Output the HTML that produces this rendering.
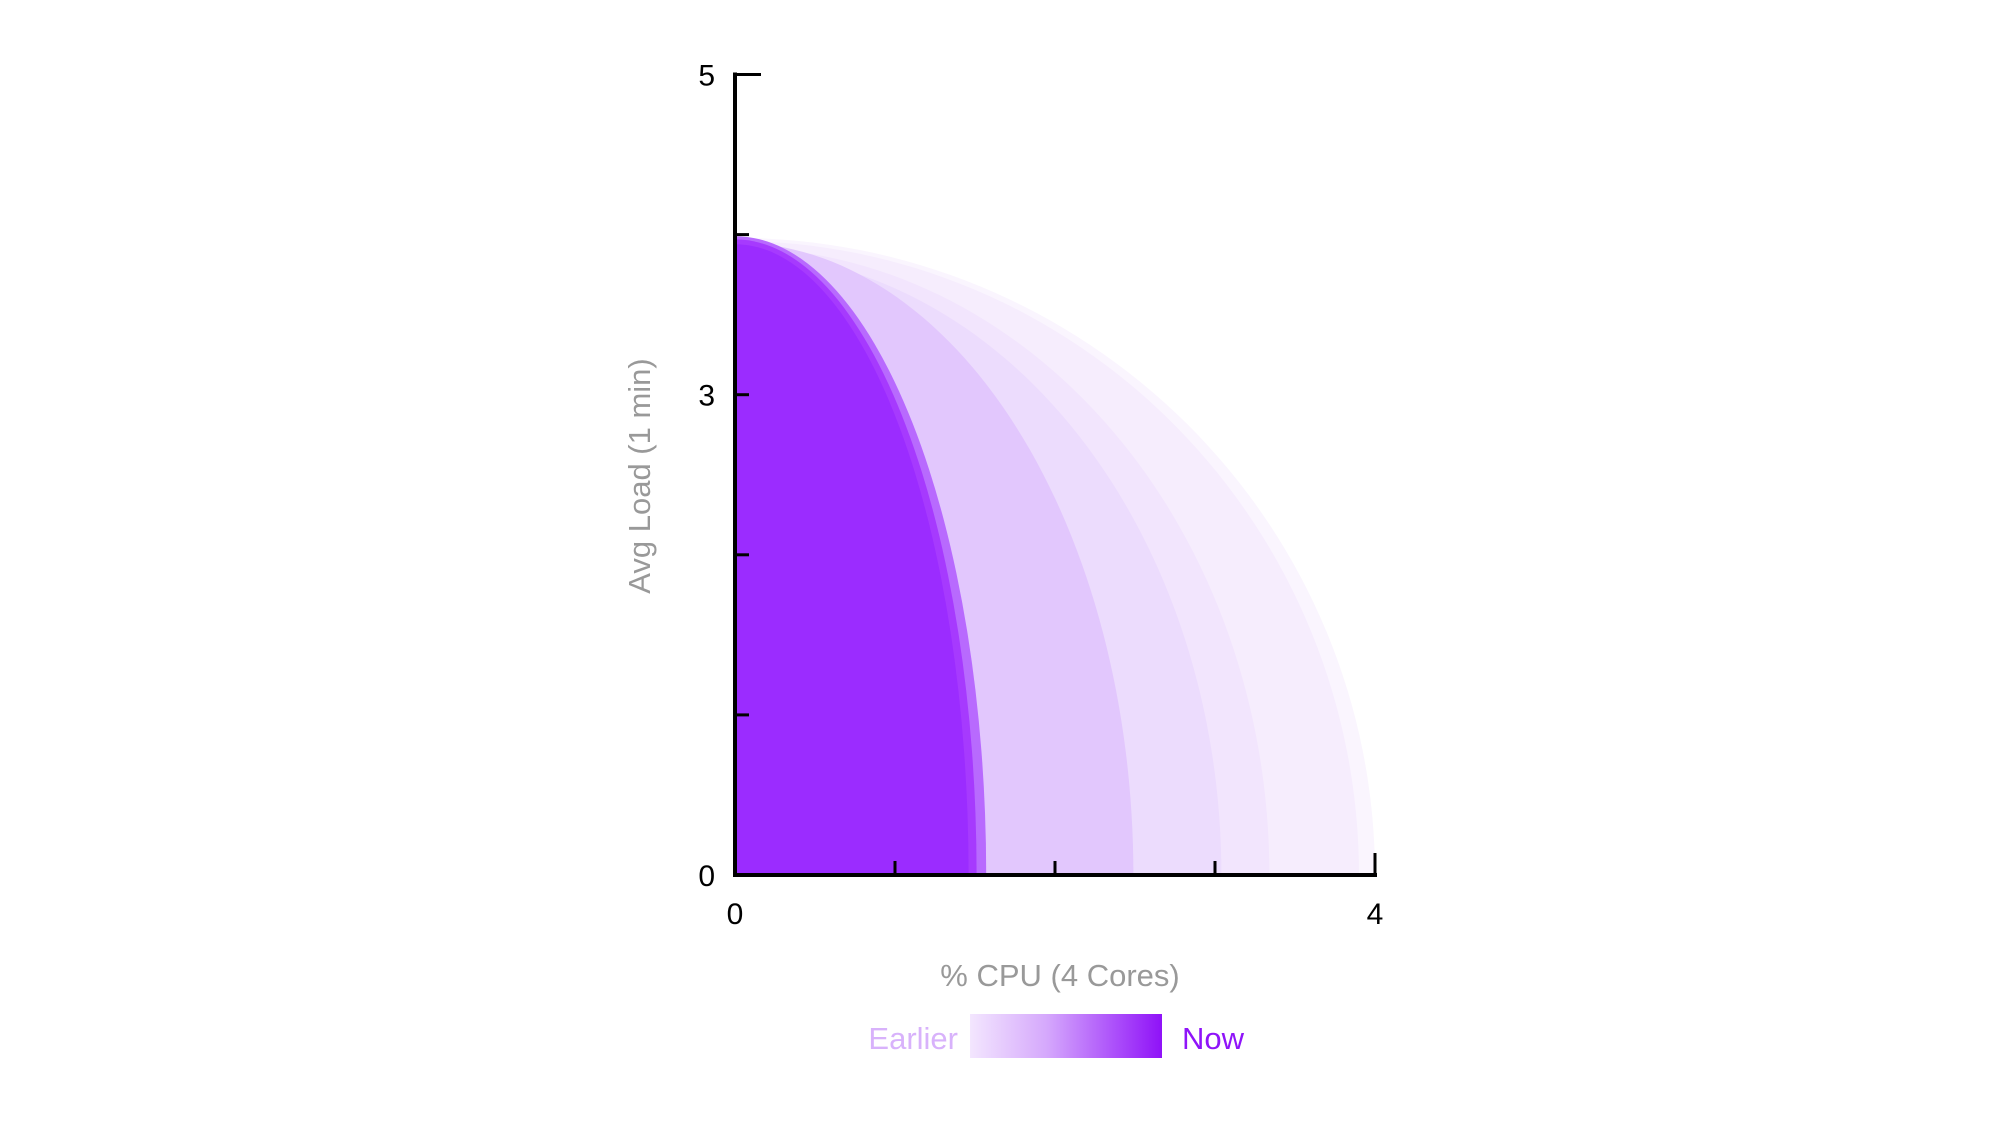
<!DOCTYPE html>
<html><head><meta charset="utf-8"><style>
html,body{margin:0;padding:0;background:#fff;width:2004px;height:1124px;overflow:hidden}
svg{display:block}
text{font-family:"Liberation Sans",sans-serif}
</style></head><body>
<svg id="chart" width="2004" height="1124" viewBox="0 0 2004 1124">
<defs><linearGradient id="lg" x1="0" x2="1" y1="0" y2="0">
<stop offset="0" stop-color="#f3e6fe"/><stop offset="0.4" stop-color="#d5a8fc"/><stop offset="1" stop-color="#8f12f8"/></linearGradient></defs>
<g id="marks"></g>
<g id="axes"></g>
<text x="1060" y="986" font-size="31" fill="#999" text-anchor="middle">% CPU (4 Cores)</text>
<text x="0" y="0" font-size="31" fill="#999" text-anchor="middle" transform="translate(650,476) rotate(-90)">Avg Load (1 min)</text>
<text x="958" y="1049" font-size="31" fill="#d8b2fb" text-anchor="end">Earlier</text>
<rect x="970" y="1014" width="192" height="44" fill="url(#lg)"/>
<text x="1182" y="1049" font-size="31" fill="#8f14f9">Now</text>
</svg>
<script>
const cpuValues = [4.0, 3.9, 3.34, 3.04, 2.49, 1.57, 1.51, 1.46];
const loadValues = [3.98, 3.96, 3.92, 3.88, 3.95, 3.99, 3.97, 3.94];
const fillColors = ['#faf5fe','#f6edfd','#f2e5fd','#ecdcfd','#e2c7fd','#b86afe','#a63afe','#9b2cff'];
const xTicks = [0,1,2,3,4];
const xTickLabels = ['0','','','','4'];
const yTicks = [0,1,2,3,4,5];
const yTickLabels = ['0','','','3','','5'];

const X0=735, X1=1375, Y0=875, Y1=74.5;
function xs(v){return X0+(X1-X0)*v/4;}
function ys(v){return Y0-(Y0-Y1)*v/5;}
const NS='http://www.w3.org/2000/svg';
const marks=document.getElementById('marks');
for(let i=0;i<cpuValues.length;i++){
  const rx=xs(cpuValues[i])-X0, ry=Y0-ys(loadValues[i]);
  const p=document.createElementNS(NS,'path');
  p.setAttribute('d',`M${X0},${Y0} L${X0+rx},${Y0} A${rx},${ry} 0 0 0 ${X0},${Y0-ry} Z`);
  p.setAttribute('fill',fillColors[i]);
  
  
  marks.appendChild(p);
}
const axes=document.getElementById('axes');
function line(x1,y1,x2,y2,w,name){
  const l=document.createElementNS(NS,'line');
  l.setAttribute('x1',x1);l.setAttribute('y1',y1);l.setAttribute('x2',x2);l.setAttribute('y2',y2);
  l.setAttribute('stroke','#000');l.setAttribute('stroke-width',w);
  
  
  axes.appendChild(l);
}
function text(x,y,s,anchor,name){
  const t=document.createElementNS(NS,'text');
  t.setAttribute('x',x);t.setAttribute('y',y);t.setAttribute('font-size','30');t.setAttribute('fill','#000');t.setAttribute('text-anchor',anchor);
  t.textContent=s;
  
  
  axes.appendChild(t);
}
line(X0,Y0,X1+2,Y0,4,'x-axis-line');
line(X0,Y0+2,X0,Y1-2,4,'y-axis-line');
xTicks.forEach((v,i)=>{
  const len = i===xTicks.length-1 ? 22 : 14;
  if(i>0) line(xs(v),Y0,xs(v),Y0-len,3,'x-tick');
  if(xTickLabels[i]) text(xs(v),Y0+49,xTickLabels[i],'middle','x-tick-label');
});
yTicks.forEach((v,i)=>{
  const len = i===yTicks.length-1 ? 26 : 14;
  if(i>0) line(X0,ys(v),X0+len,ys(v),3,'y-tick');
  if(yTickLabels[i]) text(X0-20,ys(v)+11,yTickLabels[i],'end','y-tick-label');
});
</script>
</body></html>
